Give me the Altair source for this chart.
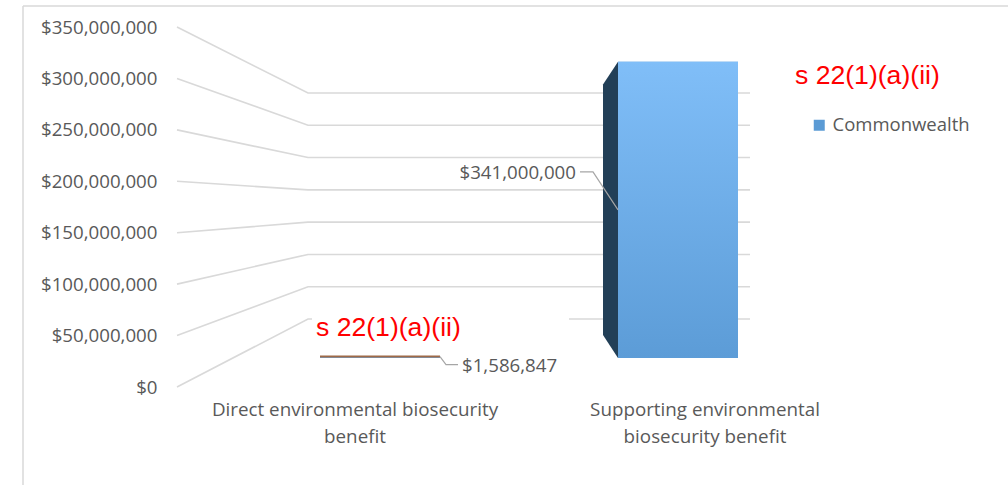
import textwrap

import altair as alt
import pandas as pd

# ---------------- data ----------------
CATEGORIES = [
    "Direct environmental biosecurity benefit",
    "Supporting environmental biosecurity benefit",
]
VALUES = [1_586_847, 341_000_000]
SERIES = "Commonwealth"
TICKS = [0, 50_000_000, 100_000_000, 150_000_000,
         200_000_000, 250_000_000, 300_000_000, 350_000_000]
REDACTION = "s 22(1)(a)(ii)"

# ---------------- 3-D frame layout (pixels) ----------------
W, H = 1008, 485
AXIS_MAX = TICKS[-1]
FRONT_PLANE = (387, 27)   # y of 0 and of AXIS_MAX along the value labels
BACK_WALL = (319, 93)     # same two levels on the back wall
BAR_FACE = (358, 54)      # front face of the columns
BAR_DEPTH = (335, 78)     # rear edge of the column sides
WALL_X = (177, 308, 750)  # label end, wall corner, wall end
BAR_LEFT0, BAR_STEP, BAR_WIDTH = 320, 298, 120
VANISH_X, SIDE_K = 380, 0.0503
HORIZON_Y = 210
CAT_X0, CAT_STEP, CAT_TOP, CAT_WRAP = 355, 350, 401, 32
# leader line per column: anchor edge, anchor height, elbow offset, tail
LEADERS = [
    dict(edge="right", frac=1.0, dx=6, dy=8, tail=12),
    dict(edge="left", frac=0.5, dx=-25, dy=-38, tail=-13),
]

TEXT = "#595959"
GRID = "#d9d9d9"
FONT = "Open Sans"
RED_FONT = "Liberation Sans"


def plane_px(v, plane):
    y0, y1 = plane
    return y0 + (y1 - y0) * v / AXIS_MAX


def px_to_units(px):
    f0, f1 = FRONT_PLANE
    return (px - f0) / (f1 - f0) * AXIS_MAX


def on_plane(v, plane):
    return px_to_units(plane_px(v, plane))


YSCALE = alt.Scale(domain=[0, AXIS_MAX], range=list(FRONT_PLANE), nice=False, zero=False)
YAXIS = alt.Axis(values=TICKS, format="$,.0f", title=None, grid=False, domain=False,
                 ticks=False, tickSize=0, labelPadding=2, offset=-159,
                 labelFont=FONT, labelFontSize=18.7, labelColor=TEXT)


def Y(field):
    return alt.Y(field, type="quantitative", scale=YSCALE, axis=YAXIS)


def X(field):
    return alt.X(field, type="quantitative", scale=None, axis=None)


# gridlines: front label -> back wall corner -> along the wall
grid_rows = []
for t in TICKS:
    grid_rows += [
        dict(tick=t, k=0, x=WALL_X[0], y=t),
        dict(tick=t, k=1, x=WALL_X[1], y=on_plane(t, BACK_WALL)),
        dict(tick=t, k=2, x=WALL_X[2], y=on_plane(t, BACK_WALL)),
    ]
grid_df = pd.DataFrame(grid_rows)

bar_rows, side_rows, top_rows, lead_rows, label_rows = [], [], [], [], []
for i, (cat, v) in enumerate(zip(CATEGORIES, VALUES)):
    left = BAR_LEFT0 + i * BAR_STEP
    right = left + BAR_WIDTH
    depth = (left + BAR_WIDTH / 2 - VANISH_X) * SIDE_K
    bar_rows.append(dict(category=cat, series=SERIES, value=v, x=left, x2=right,
                         y=on_plane(v, BAR_FACE), y2=on_plane(0, BAR_FACE)))
    side_rows += [
        dict(category=cat, x=left - depth, y=on_plane(v, BAR_DEPTH), y2=on_plane(0, BAR_DEPTH)),
        dict(category=cat, x=left, y=on_plane(v, BAR_FACE), y2=on_plane(0, BAR_FACE)),
    ]
    if plane_px(v, BAR_FACE) > HORIZON_Y:
        top_rows.append(dict(category=cat, x=left, x2=right, y=on_plane(v, BAR_FACE)))
    ld = LEADERS[i]
    ax = right if ld["edge"] == "right" else left
    ay = plane_px(v * ld["frac"], BAR_FACE)
    ex, ey = ax + ld["dx"], ay + ld["dy"]
    tx = ex + ld["tail"]
    lead_rows += [
        dict(category=cat, k=0, x=ax, y=px_to_units(ay)),
        dict(category=cat, k=1, x=ex, y=px_to_units(ey)),
        dict(category=cat, k=2, x=tx, y=px_to_units(ey)),
    ]
    label_rows.append(dict(value=v, x=tx + (4 if ld["tail"] > 0 else -4),
                           y=px_to_units(ey + 1),
                           align="left" if ld["tail"] > 0 else "right"))

bars = pd.DataFrame(bar_rows)
sides = pd.DataFrame(side_rows)
tops = pd.DataFrame(top_rows)
leads = pd.DataFrame(lead_rows)
labels = pd.DataFrame(label_rows)
cats = pd.DataFrame({
    "text": ["\n".join(textwrap.wrap(c, CAT_WRAP)) for c in CATEGORIES],
    "x": [CAT_X0 + i * CAT_STEP for i in range(len(CATEGORIES))],
})
red = pd.DataFrame({"t": [REDACTION]})

# chart frame (top and left edges)
frame_top = alt.Chart(red).mark_rule(color=GRID, strokeWidth=1.5).encode(
    x=alt.value(23), x2=alt.value(W), y=alt.value(6))
frame_left = alt.Chart(red).mark_rule(color=GRID, strokeWidth=1.5).encode(
    x=alt.value(23), y=alt.value(6), y2=alt.value(H))

gridlines = alt.Chart(grid_df).mark_line(color=GRID, strokeWidth=1.6).encode(
    x=X("x"), y=Y("y"), detail="tick:N", order="k:Q")

# white box behind the lower redaction note
red_box = alt.Chart(red).mark_rect(color="white").encode(
    x=alt.value(312), x2=alt.value(569), y=alt.value(308), y2=alt.value(346))
red_low = alt.Chart(red).mark_text(align="left", baseline="middle", font=RED_FONT,
                                   fontSize=26.6, color="#ff0000").encode(
    x=alt.value(316), y=alt.value(328), text="t:N")
red_high = alt.Chart(red).mark_text(align="left", baseline="middle", font=RED_FONT,
                                    fontSize=26.6, color="#ff0000").encode(
    x=alt.value(795), y=alt.value(76), text="t:N")

side = alt.Chart(sides).mark_area(color="#223f57").encode(
    x=X("x"), y=Y("y"), y2=alt.Y2("y2"), detail="category:N")

face_base = alt.Chart(bars).mark_rect().encode(
    x=X("x"), x2=alt.X2("x2"), y=Y("y"), y2=alt.Y2("y2"),
    color=alt.Color("series:N", scale=alt.Scale(range=["#5b9bd5"]),
                    legend=alt.Legend(orient="none", legendX=810, legendY=116, title=None,
                                      symbolType="square", symbolSize=121,
                                      symbolStrokeWidth=0, labelFont=FONT,
                                      labelFontSize=18.5, labelColor=TEXT,
                                      labelOffset=4, padding=0)))

face = alt.Chart(bars).mark_rect(
    fill=alt.Gradient(gradient="linear",
                      stops=[alt.GradientStop(color="#80bef8", offset=0),
                             alt.GradientStop(color="#5c9cd7", offset=1)],
                      x1=0, x2=0, y1=0, y2=1)).encode(
    x=X("x"), x2=alt.X2("x2"), y=Y("y"), y2=alt.Y2("y2"))

top_face = alt.Chart(tops).mark_rule(color="#9e6a48", strokeWidth=2).encode(
    x=X("x"), x2=alt.X2("x2"), y=Y("y"))

leaders = alt.Chart(leads).mark_line(color="#a6a6a6", strokeWidth=1.2).encode(
    x=X("x"), y=Y("y"), detail="category:N", order="k:Q")

def value_labels(align):
    return alt.Chart(labels).transform_filter(alt.datum.align == align).mark_text(
        align=align, baseline="middle", font=FONT, fontSize=18.7, color=TEXT).encode(
        x=X("x"), y=Y("y"), text=alt.Text("value:Q", format="$,.0f"))

cat_labels = alt.Chart(cats).mark_text(
    align="center", baseline="top", font=FONT, fontSize=18.8, color=TEXT,
    lineBreak="\n", lineHeight=27).encode(
    x=X("x"), y=alt.value(CAT_TOP), text="text:N")

chart = alt.layer(
    frame_top, frame_left, gridlines, red_box, side, face_base, face, top_face,
    leaders, value_labels("left"), value_labels("right"), cat_labels, red_low, red_high,
).properties(
    width=W, height=H, padding=0, background="white",
    autosize=alt.AutoSizeParams(type="none"),
).configure_view(stroke=None)

chart.save("out.html", embed_options={"renderer": "svg", "actions": False})
